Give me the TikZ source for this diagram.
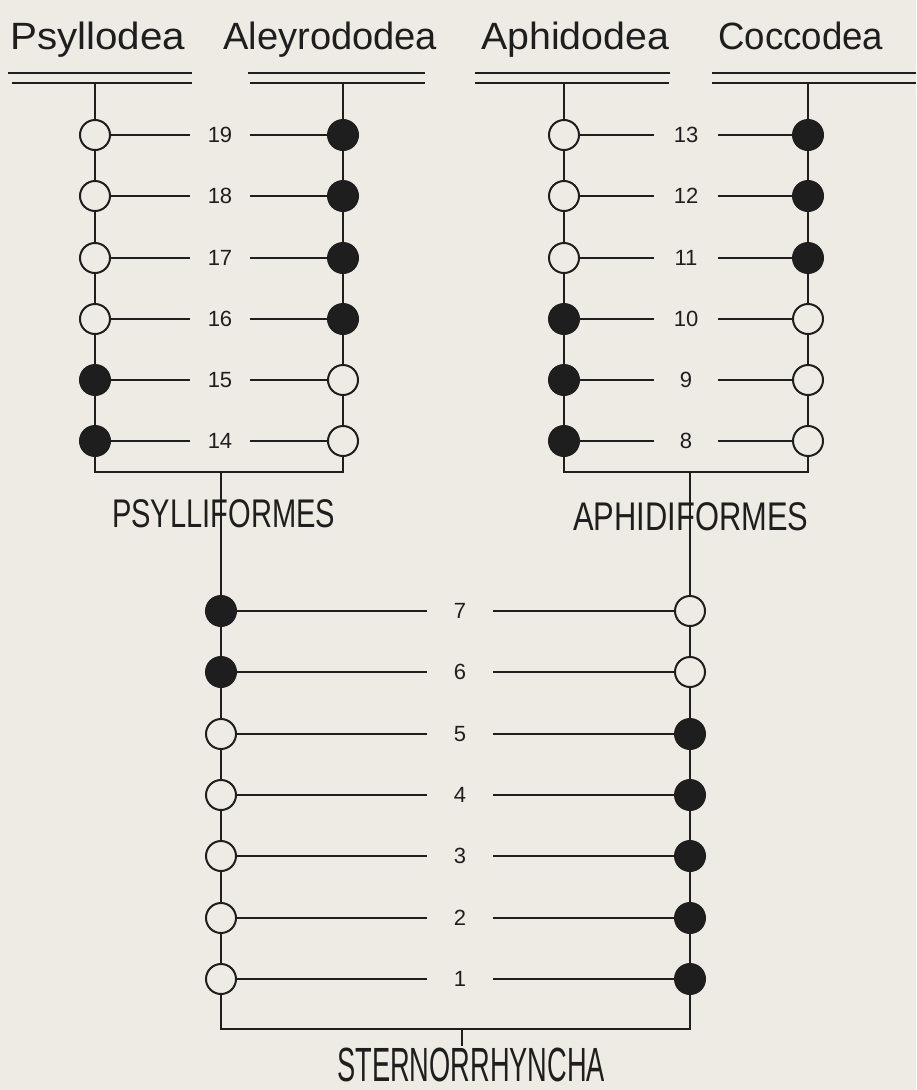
\documentclass[tikz,border=0pt]{standalone}
\usepackage{fontspec}
\setmainfont{Liberation Sans}
\definecolor{bg}{HTML}{EEEBE4}
\definecolor{ink}{HTML}{1E1E1E}
\begin{document}
\begin{tikzpicture}[x=1pt,y=-1pt,
  ln/.style={draw=ink, line width=2pt},
  opn/.style={circle, draw=ink, fill=bg, line width=2pt, minimum size=30pt, inner sep=0pt},
  ful/.style={circle, draw=ink, fill=ink, line width=2pt, minimum size=30pt, inner sep=0pt},
  num/.style={font=\fontsize{22}{22}\selectfont, text=ink, inner sep=0pt, minimum width=60pt},
  ttl/.style={font=\fontsize{38}{38}\selectfont, text=ink, inner sep=0pt, anchor=base west},
  grp/.style={font=\fontsize{40}{40}\selectfont, text=ink, inner sep=0pt, anchor=base west}]
\path[use as bounding box, fill=bg] (0,0) rectangle (916,1090);

% titles
\node[ttl] (tPsy) at (10,49) {\resizebox{175pt}{\height}{Psyllodea}};
\node[ttl] (tAle) at (223,49) {\resizebox{214pt}{\height}{Aleyrododea}};
\node[ttl] (tAph) at (481,49) {\resizebox{188pt}{\height}{Aphidodea}};
\node[ttl] (tCoc) at (718,49) {\resizebox{165pt}{\height}{Coccodea}};

% double underlines
\draw[ln] (8,73) -- (192,73) (12,83) -- (192,83);
\draw[ln] (248,73) -- (425,73) (250,83) -- (425,83);
\draw[ln] (475,73) -- (670,73) (475,83) -- (669,83);
\draw[ln] (712,73) -- (916,73) (712,83) -- (916,83);

\coordinate (tL) at (95,83);
\coordinate (tA) at (343,83);
\coordinate (tP) at (564,83);
\coordinate (tC) at (808,83);

% upper left block (Psyllodea / Aleyrododea)
\foreach \k/\y/\sa/\sb in {19/135/opn/ful,18/196/opn/ful,17/258/opn/ful,16/319/opn/ful,15/380/ful/opn,14/441/ful/opn}{
  \node[\sa] (L\k) at (95,\y) {};
  \node[\sb] (A\k) at (343,\y) {};
  \node[num] (n\k) at (220,\y) {\k};
  \draw[ln] (L\k) -- (n\k.west) (n\k.east) -- (A\k);
}
% upper right block (Aphidodea / Coccodea)
\foreach \k/\y/\sa/\sb in {13/135/opn/ful,12/196/opn/ful,11/258/opn/ful,10/319/ful/opn,9/380/ful/opn,8/441/ful/opn}{
  \node[\sa] (P\k) at (564,\y) {};
  \node[\sb] (C\k) at (808,\y) {};
  \node[num, minimum width=64pt] (n\k) at (686,\y) {\k};
  \draw[ln] (P\k) -- (n\k.west) (n\k.east) -- (C\k);
}
% lower block
\foreach \k/\y/\sa/\sb in {7/611/ful/opn,6/672/ful/opn,5/734/opn/ful,4/795/opn/ful,3/856/opn/ful,2/918/opn/ful,1/979/opn/ful}{
  \node[\sa] (B\k) at (221,\y) {};
  \node[\sb] (D\k) at (690,\y) {};
  \node[num, minimum width=66pt] (n\k) at (460,\y) {\k};
  \draw[ln] (B\k) -- (n\k.west) (n\k.east) -- (D\k);
}

% stems
\draw[ln] (tL) -- (L19) -- (L18) -- (L17) -- (L16) -- (L15) -- (L14);
\draw[ln] (tA) -- (A19) -- (A18) -- (A17) -- (A16) -- (A15) -- (A14);
\draw[ln] (tP) -- (P13) -- (P12) -- (P11) -- (P10) -- (P9) -- (P8);
\draw[ln] (tC) -- (C13) -- (C12) -- (C11) -- (C10) -- (C9) -- (C8);
\draw[ln] (B7) -- (B6) -- (B5) -- (B4) -- (B3) -- (B2) -- (B1);
\draw[ln] (D7) -- (D6) -- (D5) -- (D4) -- (D3) -- (D2) -- (D1);

% brackets
\coordinate (bL) at (95,472);
\coordinate (bA) at (343,472);
\coordinate (bPs) at (221,472);
\draw[ln] (L14) -- (bL) -- (bA) -- (A14);
\draw[ln] (bPs) -- (B7);

\coordinate (bP) at (564,472);
\coordinate (bC) at (808,472);
\coordinate (bAp) at (690,472);
\draw[ln] (P8) -- (bP) -- (bC) -- (C8);
\draw[ln] (bAp) -- (D7);

\coordinate (bB) at (221,1029);
\coordinate (bD) at (690,1029);
\coordinate (bSt) at (462,1029);
\coordinate (eSt) at (462,1046);
\draw[ln] (B1) -- (bB) -- (bD) -- (D1);
\draw[ln] (bSt) -- (eSt);

% group labels
\node[grp] (psyf) at (112,527) {\resizebox{223pt}{\height}{PSYLLIFORMES}};
\node[grp] (aphf) at (573,530) {\resizebox{235pt}{\height}{APHIDIFORMES}};
\node[grp, font=\fontsize{48}{48}\selectfont] (ster) at (337,1081) {\resizebox{268pt}{\height}{STERNORRHYNCHA}};
\end{tikzpicture}
\end{document}
